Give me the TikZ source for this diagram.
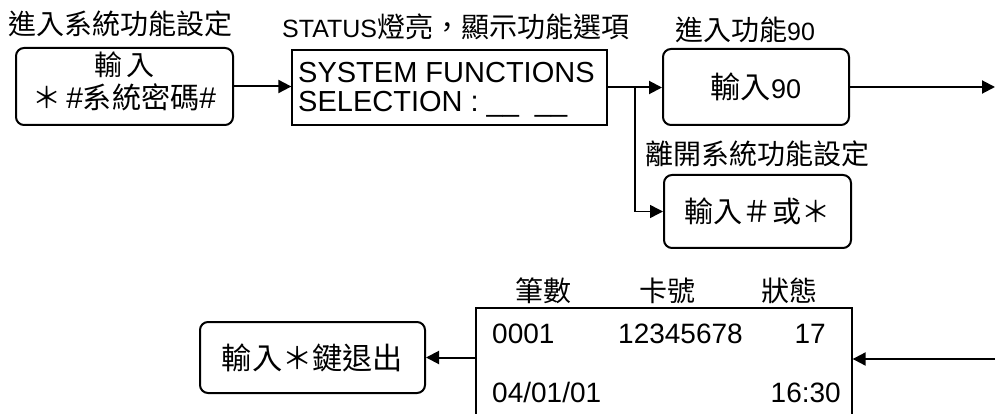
\documentclass[tikz,border=0pt]{standalone}
\usepackage{fontspec}
\setmainfont{Liberation Sans}
\newfontfamily\cjk[Scale=1.12]{Noto Sans CJK TC}
\usetikzlibrary{arrows.meta}
\begin{document}
\begin{tikzpicture}[x=1pt,y=-1pt,
  rbox/.style={draw, line width=2pt, rounded corners=8pt, inner sep=0pt},
  sbox/.style={draw, line width=1.3pt, inner sep=0pt},
  conn/.style={line width=2pt, -{Triangle[length=13pt,width=13pt]}},
  thinconn/.style={conn, line width=1.5pt},
  txt/.style={inner sep=0pt},
  ttl/.style={txt, anchor=base west, font=\fontsize{25}{30}\selectfont},
]
\useasboundingbox (0,0) rectangle (996,414);
\clip (0,0) rectangle (996,414);

% titles
\node[ttl] (t1) at (8,35) {\cjk 進入系統功能設定};
\node[ttl] (t2) at (282,38) {STATUS{\cjk 燈亮，顯示功能選項}};
\node[ttl] (t3) at (675,41) {{\cjk 進入功能}90};
\node[ttl] (t4) at (645,165) {\cjk 離開系統功能設定};

% box 1
\node[rbox, minimum width=217pt, minimum height=77pt] (b1) at (124.5,86.5) {};
\node[txt, font=\fontsize{25}{30}\selectfont] (b1a) at (124.5,65) {\cjk 輸\,入};
\node[txt, font=\fontsize{26}{30}\selectfont] (b1b) at (124.5,97) {{\cjk ＊}\,{\fontsize{30}{30}\selectfont\#}{\cjk 系統密碼}{\fontsize{30}{30}\selectfont\#}};

% box 2
\node[sbox, minimum width=315pt, minimum height=75pt] (b2) at (449.5,87.5) {};
\node[txt, anchor=base west, font=\fontsize{29}{30}\selectfont] (b2a) at (298,83) {SYSTEM FUNCTIONS};
\node[txt, anchor=base west, font=\fontsize{29}{30}\selectfont] (b2b) at (298,112) {SELECTION : \_\_\hspace{16pt}\_\_};

% box 3
\node[rbox, minimum width=186pt, minimum height=76pt, font=\fontsize{27}{30}\selectfont] (b3) at (756,87) {{\cjk 輸入}90};

% box 4
\node[rbox, minimum width=187pt, minimum height=73pt, font=\fontsize{26}{30}\selectfont] (b4) at (757.5,211.5) {\cjk 輸入＃或＊};

% box 5
\node[sbox, minimum width=376pt, minimum height=132pt] (b5) at (664,374) {};
\node[txt, font=\fontsize{25}{30}\selectfont] (h1) at (543.5,291) {\cjk 筆數};
\node[txt, font=\fontsize{25}{30}\selectfont] (h2) at (667.5,291) {\cjk 卡號};
\node[txt, font=\fontsize{25}{30}\selectfont] (h3) at (789,291) {\cjk 狀態};
\node[txt, anchor=base west, font=\fontsize{28}{30}\selectfont] (d1) at (492,343) {0001};
\node[txt, anchor=base, font=\fontsize{28}{30}\selectfont] (d2) at (680.5,343) {12345678};
\node[txt, anchor=base east, font=\fontsize{28}{30}\selectfont] (d3) at (826,343) {17};
\node[txt, anchor=base west, font=\fontsize{28}{30}\selectfont] (d4) at (492,402) {04/01/01};
\node[txt, anchor=base east, font=\fontsize{28}{30}\selectfont] (d5) at (841,402) {16:30};

% box 6
\node[rbox, minimum width=225pt, minimum height=71pt, font=\fontsize{27}{30}\selectfont] (b6) at (312.5,357.5) {\cjk 輸入＊鍵退出};

% connectors
\coordinate (j) at (635,87.5);
\coordinate (e1) at (995,87);
\coordinate (e2) at (995,359);
\draw[conn] (b1.east) -- (b1.east -| b2.west);
\draw[conn] (b2.east) -- (b2.east -| b3.west);
\draw[thinconn] (j) |- (b4.west);
\draw[conn] (b3.east) -- (e1);
\draw[conn] (e2) -- (e2 -| b5.east);
\draw[conn] (b5.west |- b6.east) -- (b6.east);
\end{tikzpicture}
\end{document}
